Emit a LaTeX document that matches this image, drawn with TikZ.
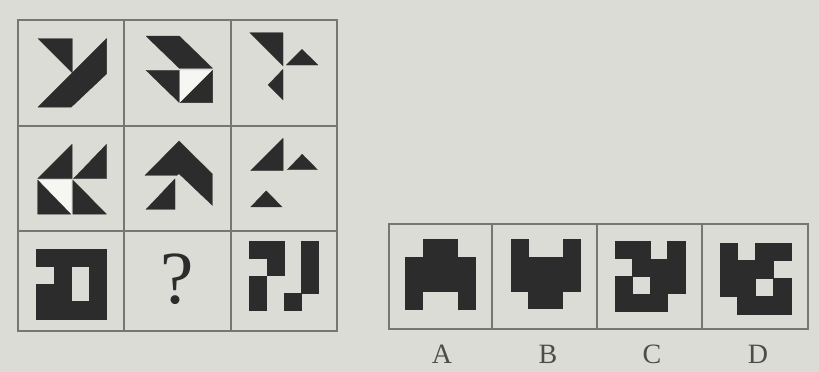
\documentclass[tikz,border=0pt]{standalone}
\usepackage{fontspec}
\setmainfont{Liberation Serif}
\definecolor{bg}{RGB}{220,220,215}
\definecolor{dk}{RGB}{44,44,44}
\definecolor{ln}{RGB}{118,118,115}
\definecolor{wh}{RGB}{246,246,243}
\tikzset{
  dkfill/.style={fill=dk, draw=dk, line width=0.3pt, line join=round},
  whfill/.style={fill=wh},
  gridline/.style={draw=ln, line width=1.1pt},
  lbl/.style={inner sep=0pt, text=dk!85, font=\fontsize{28}{28}\selectfont},
}
\newcommand{\pixgrid}[1]{\foreach \c/\r in {#1}{\fill[dk] (\c-0.02,\r-0.02) rectangle ++(1.04,1.04);}}
\begin{document}
\begin{tikzpicture}[x=1pt,y=-1pt]
\useasboundingbox (0,0) rectangle (819,372);
\fill[bg] (0,0) rectangle (819,372);

% ---- left 3x3 grid ----
\draw[gridline] (18,20) rectangle (337,331);
\draw[gridline] (124,20) -- (124,331);
\draw[gridline] (231,20) -- (231,331);
\draw[gridline] (18,126) -- (337,126);
\draw[gridline] (18,231) -- (337,231);

% cell 1
\begin{scope}[shift={(38,38.5)},x=34.3pt,y=-34.3pt]
  \fill[dkfill] (0,0) -- (1,0) -- (1,1) -- cycle;
  \fill[dkfill] (0,2) -- (2,0) -- (2,1.03) -- (0.97,2) -- cycle;
\end{scope}
% cell 2
\begin{scope}[shift={(146,36)},x=33.3pt,y=-33.3pt]
  \fill[dkfill] (0,0) -- (1,0) -- (2,0.97) -- (1,0.97) -- cycle;
  \fill[dkfill] (0,1.03) -- (1,1.03) -- (1,2) -- cycle;
  \fill[whfill] (1.02,1.03) -- (2,1.03) -- (1.02,2) -- cycle;
  \fill[dkfill] (2,1.03) -- (2,2) -- (1.03,2) -- cycle;
\end{scope}
% cell 3
\begin{scope}[shift={(249.7,32.7)},x=33.3pt,y=-33.3pt]
  \fill[dkfill] (0,0) -- (1,0) -- (1,1) -- cycle;
  \fill[dkfill] (1.1,0.97) -- (1.57,0.5) -- (2.05,0.97) -- cycle;
  \fill[dkfill] (1,1.1) -- (0.55,1.57) -- (1,2.02) -- cycle;
\end{scope}
% cell 4
\begin{scope}[shift={(37.7,144.3)},x=34.4pt,y=-34.4pt]
  \fill[dkfill] (0,1) -- (1,0) -- (1,1) -- cycle;
  \fill[dkfill] (1.04,1) -- (2,0) -- (2,1) -- cycle;
  \fill[whfill] (0.02,1.04) -- (0.98,1.04) -- (0.98,2.03) -- cycle;
  \fill[dkfill] (0,1.04) -- (0,2.03) -- (0.96,2.03) -- cycle;
  \fill[dkfill] (1.02,1.04) -- (2,2.03) -- (1.02,2.03) -- cycle;
\end{scope}
% cell 5
\begin{scope}[shift={(145,141)},x=33.4pt,y=-33.4pt]
  \fill[dkfill] (0,1.03) -- (1.02,0) -- (2.02,0.99) -- (2.02,1.93) -- (1.02,0.98) -- (0.95,1.03) -- cycle;
  \fill[dkfill] (0.03,2.05) -- (0.9,1.13) -- (0.9,2.05) -- cycle;
\end{scope}
% cell 6
\begin{scope}[shift={(250.7,138.3)},x=32.4pt,y=-32.4pt]
  \fill[dkfill] (0,1) -- (1,0) -- (1,1) -- cycle;
  \fill[dkfill] (1.13,0.97) -- (1.59,0.49) -- (2.06,0.97) -- cycle;
  \fill[dkfill] (0,2.12) -- (0.48,1.62) -- (0.97,2.12) -- cycle;
\end{scope}
% cell 7
\begin{scope}[shift={(36.7,249.3)},x=17.5pt,y=-17.5pt]
  \pixgrid{0/0,1/0,2/0,3/0, 1/1,3/1, 0/2,1/2,3/2, 0/3,1/3,2/3,3/3}
\end{scope}
% cell 8
\node[inner sep=0pt, text=dk, font=\fontsize{75}{75}\selectfont] (q) at (177,279) {?};
% cell 9
\begin{scope}[shift={(249.7,241.3)},x=17.3pt,y=-17.3pt]
  \pixgrid{0/0,1/0,3/0, 1/1,3/1, 0/2,3/2, 0/3,2/3}
\end{scope}

% ---- answer options ----
\draw[gridline] (389,224) rectangle (808,329);
\draw[gridline] (492,224) -- (492,329);
\draw[gridline] (597,224) -- (597,329);
\draw[gridline] (702,224) -- (702,329);

% A
\begin{scope}[shift={(405.7,239.7)},x=17.4pt,y=-17.4pt]
  \pixgrid{1/0,2/0, 0/1,1/1,2/1,3/1, 0/2,1/2,2/2,3/2, 0/3,3/3}
\end{scope}
% B
\begin{scope}[shift={(511,239.7)},x=17.3pt,y=-17.3pt]
  \pixgrid{0/0,3/0, 0/1,1/1,2/1,3/1, 0/2,1/2,2/2,3/2, 1/3,2/3}
\end{scope}
% C
\begin{scope}[shift={(615,241.3)},x=17.6pt,y=-17.6pt]
  \pixgrid{0/0,1/0,3/0, 1/1,2/1,3/1, 0/2,2/2,3/2, 0/3,1/3,2/3}
\end{scope}
% D
\begin{scope}[shift={(720,243)},x=17.8pt,y=-17.8pt]
  \pixgrid{0/0,2/0,3/0, 0/1,1/1,2/1, 0/2,1/2,3/2, 1/3,2/3,3/3}
\end{scope}

\node[lbl] (la) at (442,354) {A};
\node[lbl] (lb) at (548,354) {B};
\node[lbl] (lc) at (652,354) {C};
\node[lbl] (ld) at (758,354) {D};
\end{tikzpicture}
\end{document}
